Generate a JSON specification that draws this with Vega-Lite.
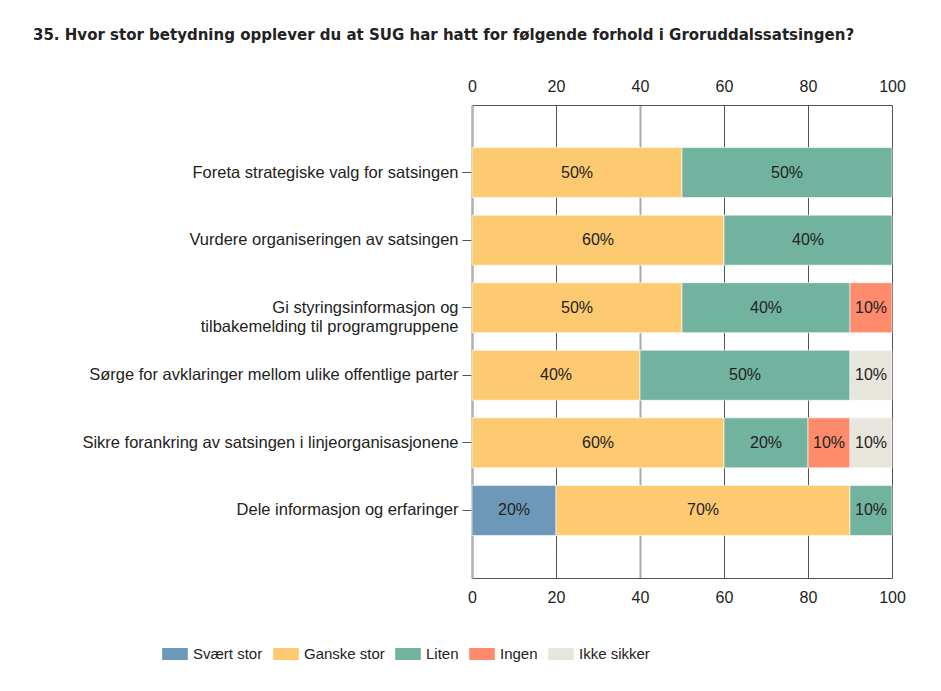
{
  "$schema": "https://vega.github.io/schema/vega-lite/v6.json",
  "width": 420,
  "height": 473,
  "padding": {"left": 33, "top": 28, "right": 20, "bottom": 10},
  "background": "white",
  "title": {
    "text": "35. Hvor stor betydning opplever du at SUG har hatt for følgende forhold i Groruddalssatsingen?",
    "anchor": "start",
    "frame": "bounds",
    "font": "DejaVu Sans",
    "fontSize": 15,
    "fontWeight": "bold",
    "color": "#222222",
    "offset": 35
  },
  "config": {
    "view": {"stroke": null},
    "axis": {"labelFont": "Liberation Sans", "labelFontSize": 16, "labelColor": "#222222"}
  },
  "data": {
    "values": [
      {"q": "Foreta strategiske valg for satsingen", "svar": "Ganske stor", "pct": 50},
      {"q": "Foreta strategiske valg for satsingen", "svar": "Liten", "pct": 50},
      {"q": "Vurdere organiseringen av satsingen", "svar": "Ganske stor", "pct": 60},
      {"q": "Vurdere organiseringen av satsingen", "svar": "Liten", "pct": 40},
      {"q": "Gi styringsinformasjon og tilbakemelding til programgruppene", "svar": "Ganske stor", "pct": 50},
      {"q": "Gi styringsinformasjon og tilbakemelding til programgruppene", "svar": "Liten", "pct": 40},
      {"q": "Gi styringsinformasjon og tilbakemelding til programgruppene", "svar": "Ingen", "pct": 10},
      {"q": "Sørge for avklaringer mellom ulike offentlige parter", "svar": "Ganske stor", "pct": 40},
      {"q": "Sørge for avklaringer mellom ulike offentlige parter", "svar": "Liten", "pct": 50},
      {"q": "Sørge for avklaringer mellom ulike offentlige parter", "svar": "Ikke sikker", "pct": 10},
      {"q": "Sikre forankring av satsingen i linjeorganisasjonene", "svar": "Ganske stor", "pct": 60},
      {"q": "Sikre forankring av satsingen i linjeorganisasjonene", "svar": "Liten", "pct": 20},
      {"q": "Sikre forankring av satsingen i linjeorganisasjonene", "svar": "Ingen", "pct": 10},
      {"q": "Sikre forankring av satsingen i linjeorganisasjonene", "svar": "Ikke sikker", "pct": 10},
      {"q": "Dele informasjon og erfaringer", "svar": "Svært stor", "pct": 20},
      {"q": "Dele informasjon og erfaringer", "svar": "Ganske stor", "pct": 70},
      {"q": "Dele informasjon og erfaringer", "svar": "Liten", "pct": 10}
    ]
  },
  "transform": [
    {"calculate": "indexof(['Svært stor','Ganske stor','Liten','Ingen','Ikke sikker'], datum.svar)", "as": "rank"},
    {"stack": "pct", "groupby": ["q"], "sort": [{"field": "rank", "order": "ascending"}], "as": ["p0", "p1"]},
    {"calculate": "(datum.p0 + datum.p1) / 2", "as": "mid"},
    {"calculate": "datum.pct + '%'", "as": "label"}
  ],
  "encoding": {
    "y": {
      "field": "q",
      "type": "nominal",
      "sort": null,
      "title": null,
      "scale": {"paddingInner": 0.26, "paddingOuter": 0.63},
      "axis": {
        "labelExpr": "indexof(datum.label, 'Gi styr') == 0 ? ['Gi styringsinformasjon og', 'tilbakemelding til programgruppene'] : datum.label",
        "labelLineHeight": 19,
        "labelFontSize": 16.5,
        "labelPadding": 4,
        "tickSize": 10,
        "tickColor": "#555555",
        "domainColor": "#b0b0b0",
        "domainWidth": 2,
        "minExtent": 439,
        "maxExtent": 439,
        "labelLimit": 430
      }
    }
  },
  "layer": [
    {
      "mark": {"type": "bar", "stroke": "white", "strokeWidth": 0.6},
      "encoding": {
        "x": {
          "field": "p0",
          "type": "quantitative",
          "scale": {"domain": [0, 100], "nice": false},
          "title": null,
          "axis": {
            "orient": "top",
            "values": [0, 20, 40, 60, 80, 100],
            "grid": true,
            "gridColor": {"condition": {"test": "datum.value == 0 || datum.value == 40", "value": "#aaaaaa"}, "value": "#555555"},
            "gridWidth": {"condition": {"test": "datum.value == 0 || datum.value == 40", "value": 2}, "value": 1},
            "ticks": false,
            "tickSize": 0,
            "labelPadding": 11,
            "domainColor": "#555555",
            "labelFlush": false
          }
        },
        "x2": {"field": "p1"},
        "color": {
          "field": "svar",
          "type": "nominal",
          "scale": {
            "domain": ["Svært stor", "Ganske stor", "Liten", "Ingen", "Ikke sikker"],
            "range": ["#6e98b8", "#fdca72", "#72b3a0", "#fe8b6c", "#e8e5dd"]
          },
          "legend": {
            "orient": "none",
            "direction": "horizontal",
            "legendX": -305,
            "legendY": 541,
            "title": null,
            "labelFont": "Liberation Sans",
            "labelFontSize": 15,
            "labelColor": "#222222",
            "symbolType": "M-1.6,-0.75L1.6,-0.75L1.6,0.75L-1.6,0.75Z",
            "symbolSize": 256,
            "symbolStrokeWidth": 0,
            "symbolOpacity": 1,
            "labelOffset": 10,
            "columnPadding": 10
          }
        }
      }
    },
    {
      "mark": {"type": "text", "font": "Liberation Sans", "fontSize": 16, "color": "#222222"},
      "encoding": {
        "x": {
          "field": "mid",
          "type": "quantitative",
          "title": null,
          "axis": {
            "orient": "bottom",
            "values": [0, 20, 40, 60, 80, 100],
            "grid": false,
            "ticks": false,
            "tickSize": 0,
            "labelPadding": 11,
            "domainColor": "#555555",
            "labelFlush": false
          }
        },
        "text": {"field": "label"}
      }
    }
  ],
  "resolve": {"axis": {"x": "independent"}}
}
